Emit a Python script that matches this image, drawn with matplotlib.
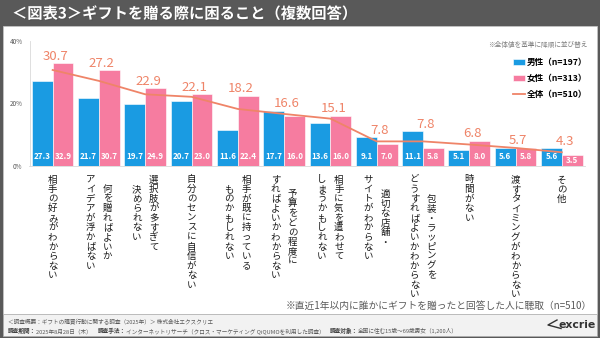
import matplotlib
matplotlib.use('Agg')
import matplotlib.pyplot as plt
import matplotlib.patheffects as pe
from matplotlib.patches import Rectangle
from matplotlib.lines import Line2D
import numpy as np

plt.rcParams['font.family'] = ['Noto Sans CJK JP', 'DejaVu Sans']

# data
categories = [
    '相手の好みがわからない',
    '何を贈ればよいか\nアイデアが浮かばない',
    '選択肢が多すぎて\n決められない',
    '自分のセンスに自信がない',
    '相手が既に持っている\nものかもしれない',
    '予算をどの程度に\nすればよいかわからない',
    '相手に気を遣わせて\nしまうかもしれない',
    '適切な店舗・\nサイトがわからない',
    '包装・ラッピングを\nどうすればよいかわからない',
    '時間がない',
    '渡すタイミングがわからない',
    'その他',
]
male   = [27.3, 21.7, 19.7, 20.7, 11.6, 17.7, 13.6, 9.1, 11.1, 5.1, 5.6, 5.6]
female = [32.9, 30.7, 24.9, 23.0, 22.4, 16.0, 16.0, 7.0, 5.8, 8.0, 5.8, 3.5]
total  = [30.7, 27.2, 22.9, 22.1, 18.2, 16.6, 15.1, 7.8, 7.8, 6.8, 5.7, 4.3]
series_labels = ['男性（n=197）', '女性（n=313）', '全体（n=510）']
yticks = [0, 20, 40]

title = '＜図表3＞ギフトを贈る際に困ること（複数回答）'
sort_note = '※全体値を基準に降順に並び替え'
base_note = '※直近1年以内に誰かにギフトを贈ったと回答した人に聴取（n=510）'
footer1 = '＜調査概要：ギフトの購買行動に関する調査（2025年）＞ 株式会社エクスクリエ'
footer2 = [('調査期間：', '2025年8月28日（木）　'),
           ('調査手法：', 'インターネットリサーチ（クロス・マーケティング QiQUMOを利用した調査）　'),
           ('調査対象：', '全国に住む15歳～69歳男女（1,200人）')]

blue   = '#1a9be2'
pink   = '#f67ca0'
salmon = '#ef8468'

W, H = 600, 338
fig = plt.figure(figsize=(6, 3.38), dpi=100)
fig.patch.set_facecolor('#595959')

# white panel + footer strip
fig.add_artist(Rectangle((3/W, 1-314/H), 594/W, 288/H, transform=fig.transFigure,
                         fc='white', ec='#c8c8c8', lw=0.5, zorder=-2))
fig.add_artist(Rectangle((3/W, 1-336/H), 594/W, 22/H, transform=fig.transFigure,
                         fc='#f2f2f2', ec='#b0b0b0', lw=0.5, zorder=-2))

ax = fig.add_axes([29.5/W, 1-165.7/H, 555.5/W, 124.7/H])
ax.patch.set_alpha(0)

x = np.arange(len(categories))
bw = 0.45
b1 = ax.bar(x - bw, male, bw, align='edge', color=blue, edgecolor='white', lw=0.4,
            label=series_labels[0], zorder=2)
b2 = ax.bar(x, female, bw, align='edge', color=pink, edgecolor='white', lw=0.4,
            label=series_labels[1], zorder=2)
l1, = ax.plot(x, total, color=salmon, lw=1.3, label=series_labels[2], zorder=3)

# values inside the bars, total above
for i in range(len(x)):
    for xc, v in ((x[i] - bw/2, male[i]), (x[i] + bw/2, female[i])):
        yv = 3.0 if v > 4 else v/2
        ax.text(xc, yv, f'{v:.1f}', ha='center', va='center', color='white',
                fontsize=5.8, fontweight='bold', zorder=4)
    ax.annotate(f'{total[i]:.1f}', xy=(x[i], max(male[i], female[i])), xytext=(2, 0.3),
                textcoords='offset points', ha='center', va='bottom',
                fontsize=9.5, color=salmon, zorder=5)

ax.set_xlim(-0.5, len(x) - 0.5)
ax.set_ylim(0, 40)
ax.set_yticks(yticks)
ax.set_yticklabels([f'{v}%' for v in yticks])
ax.set_xticks([])
ax.tick_params(axis='y', length=0, pad=5, labelsize=4.6, labelcolor='#595959')
for s in ['top', 'right']:
    ax.spines[s].set_visible(False)
for s in ['left', 'bottom']:
    ax.spines[s].set_color('#d9d9d9')
    ax.spines[s].set_linewidth(0.6)

# vertical (tategaki) category labels, first line is the right column
pitch = 6.9
colgap = 12.2
for i, lab in enumerate(categories):
    cols = lab.split('\n')
    n = max(len(c) for c in cols)
    for j, col in enumerate(cols):
        dx = (len(cols) - 1) / 2 * colgap - j * colgap
        y0 = 6.0 + (n - len(col)) / 2 * pitch
        for k, ch in enumerate(col):
            ax.annotate(ch, xy=(x[i], 0), xytext=(dx, -(y0 + (k + 0.88) * pitch)),
                        textcoords='offset points', ha='center', va='baseline',
                        fontsize=6.8, color='#1a1a1a', annotation_clip=False)

ax.legend(handles=[b1, b2, l1], loc='upper left', bbox_to_anchor=(513/W, 1-58/H),
          bbox_transform=fig.transFigure, frameon=False, borderpad=0, borderaxespad=0,
          handlelength=1.4, handleheight=0.8, handletextpad=0.2, labelspacing=0.8,
          prop={'weight': 'bold', 'size': 6.2})

# texts
fig.text(12/W, 1-13.5/H, title, color='white', fontsize=11, fontweight='bold', va='center',
         path_effects=[pe.withSimplePatchShadow(offset=(0.8, -0.8), alpha=0.5)])
fig.text(587/W, 1-45/H, sort_note, ha='right', va='center', fontsize=4.8, color='#7f7f7f')
fig.text(592/W, 1-306/H, base_note, ha='right', va='center', fontsize=7, color='#595959')
fig.text(8/W, 1-322.5/H, footer1, va='center', fontsize=4.1, color='#595959')

# second footer line: bold label followed by its value, chained left to right
prev = None
for lab, val in footer2:
    if prev is None:
        t = fig.text(8/W, 1-331/H, lab, va='center', fontsize=4.1,
                     fontweight='bold', color='#404040')
    else:
        t = ax.annotate(lab, xy=(1, 0), xycoords=prev, va='bottom', fontsize=4.1,
                        fontweight='bold', color='#404040', annotation_clip=False)
    prev = ax.annotate(val, xy=(1, 0), xycoords=t, va='bottom', fontsize=4.1,
                       color='#595959', annotation_clip=False)

# logo
fig.text(596/W, 1-325/H, 'excrie', ha='right', va='center', fontsize=7.8,
         fontweight='bold', color='#333333', family='DejaVu Sans')
fig.add_artist(Line2D([557/W, 548/W, 561/W], [1-320/H, 1-325/H, 1-328.5/H],
                      transform=fig.transFigure, color='#333333', lw=1.0))

fig.savefig('out.png', dpi=100, facecolor=fig.get_facecolor())
